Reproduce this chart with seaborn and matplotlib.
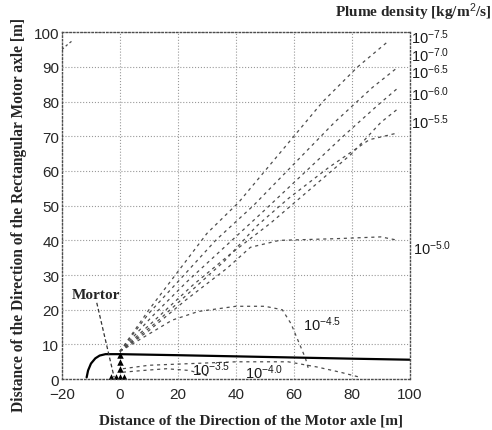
import matplotlib
matplotlib.use('Agg')
import matplotlib.pyplot as plt
import seaborn as sns
import pandas as pd

sns.set_style("white")
plt.rcParams['font.family'] = ['Liberation Sans', 'DejaVu Sans']
plt.rcParams['mathtext.fontset'] = 'custom'
plt.rcParams['mathtext.rm'] = 'Liberation Sans'
plt.rcParams['mathtext.it'] = 'Liberation Sans'

# contour lines, x / y in metres
x_m75 = [0, 10, 20, 30, 41, 55, 70, 82, 92]
y_m75 = [8, 20, 31, 42, 51, 65, 80, 90, 97]
x_m70 = [0, 10, 21, 33, 46, 60, 74, 87, 96]
y_m70 = [8, 19, 29, 40, 50, 62, 74, 84, 90]
x_m65 = [0, 11, 23, 36, 49, 63, 77, 89, 96]
y_m65 = [8, 18, 28, 38, 48, 59, 70, 79, 84]
x_m60 = [0, 12, 25, 38, 52, 66, 80, 90, 96]
y_m60 = [8, 17, 27, 36, 45, 55, 65, 74, 78]
x_m55 = [0, 12, 24, 36, 47, 58, 72, 86, 96]
y_m55 = [8, 16, 25, 34, 44, 52, 61, 69, 71]
x_m50 = [0, 10, 23, 37, 45, 55, 75, 90, 96]
y_m50 = [8, 14, 23, 32, 38, 40, 40.5, 41, 40]
x_m45 = [0, 8, 18, 27, 40, 50, 56, 59, 62, 64, 65]
y_m45 = [8, 12, 17, 19.5, 21, 21, 20, 16, 10, 6, 3]
x_m40 = [1, 10, 25, 40, 58, 68, 76, 83]
y_m40 = [3, 4, 4.5, 5, 5, 3.5, 2, 0.5]
x_m35 = [1, 8, 16, 24, 30]
y_m35 = [2, 2.5, 3, 2.5, 1]
x_corner = [-20, -18, -16.5]
y_corner = [95, 96.5, 97.5]

# solid boundary line
x_solid = [-11.5, -11, -10, -8.5, -7, -5, 0, 20, 50, 80, 100]
y_solid = [0.5, 2.5, 4.5, 6, 6.8, 7.2, 7.2, 6.9, 6.4, 5.9, 5.6]

# motor pointer and motor symbol
x_pointer = [-8, -2]
y_pointer = [22, 0.5]
motor_x = [-3, -1.5, 0, 1.5, 0, 0, 0]
motor_y = [0.6, 0.6, 0.6, 0.6, 3, 5, 7]

levels = ['-7.5', '-7.0', '-6.5', '-6.0', '-5.5', '-5.0', '-4.5', '-4.0', '-3.5']
level_x = [x_m75, x_m70, x_m65, x_m60, x_m55, x_m50, x_m45, x_m40, x_m35]
level_y = [y_m75, y_m70, y_m65, y_m60, y_m55, y_m50, y_m45, y_m40, y_m35]
label_pos = [(100.3, 98.8), (100.3, 93.6), (100.3, 88.7), (100.3, 82.4),
             (100.3, 74.3), (101, 37.8), (63, 16.1), (43, 2.2), (25, 3.1)]

rows = []
for lev, xs, ys in zip(levels, level_x, level_y):
    for i, (x, y) in enumerate(zip(xs, ys)):
        rows.append({'level': lev, 'x': x, 'y': y, 'order': i})
df = pd.DataFrame(rows)

fig = plt.figure(figsize=(4.92, 4.31), dpi=100)
ax = fig.add_axes([0.126, 0.118, 0.707, 0.805])

sns.lineplot(data=df, x='x', y='y', units='level', estimator=None, sort=False,
             color='0.3', lw=0.9, ax=ax, dashes=False)
for line in ax.lines:
    line.set_linestyle((0, (2.5, 3)))

sns.lineplot(x=x_corner, y=y_corner, color='0.3', lw=0.9, ax=ax,
             sort=False, estimator=None, linestyle=(0, (2, 2)))
sns.lineplot(x=x_solid, y=y_solid, color='black', lw=1.6, ax=ax,
             sort=False, estimator=None)
sns.lineplot(x=x_pointer, y=y_pointer, color='0.2', lw=0.9, ax=ax,
             sort=False, estimator=None, linestyle=(0, (3, 2)))
sns.scatterplot(x=motor_x, y=motor_y, color='black', marker='^', s=22, ax=ax,
                linewidth=0)

ax.set_xlim(-20, 100)
ax.set_ylim(0, 100)
ax.set_xticks(range(-20, 101, 20))
ax.set_yticks(range(0, 101, 10))
ax.tick_params(axis='both', labelsize=11, length=0)
ax.tick_params(axis='x', pad=6)
ax.tick_params(axis='y', pad=2)
ax.grid(True, color='0.6', linestyle=':', lw=0.8)
for sp in ax.spines.values():
    sp.set_linestyle(':')
    sp.set_color('0.3')
    sp.set_linewidth(1.0)

for lev, (px, py) in zip(levels, label_pos):
    ax.text(px, py, r'$10^{' + lev.replace('-', '\u2212') + '}$', fontsize=10.5,
            ha='left', va='center', clip_on=False, color='0.1')

serif = ['Liberation Serif', 'DejaVu Serif']
ax.text(-16.5, 24.5, 'Mortor', family=serif, fontweight='bold', fontsize=11,
        ha='left', va='center')
ax.set_xlabel('Distance of the Direction of the Motor axle [m]', family=serif,
              fontweight='bold', fontsize=11)
ax.xaxis.set_label_coords(0.543, -0.1)
ax.set_ylabel('Distance of the Direction of the Rectangular Motor axle [m]',
              family=serif, fontweight='bold', fontsize=11.2)
ax.yaxis.set_label_coords(-0.1, 0.475)
fig.text(0.998, 0.972, 'Plume density [kg/m$^2$/s]', family=serif,
         fontweight='bold', fontsize=11, ha='right', va='center')

fig.savefig('out.png', dpi=100)
